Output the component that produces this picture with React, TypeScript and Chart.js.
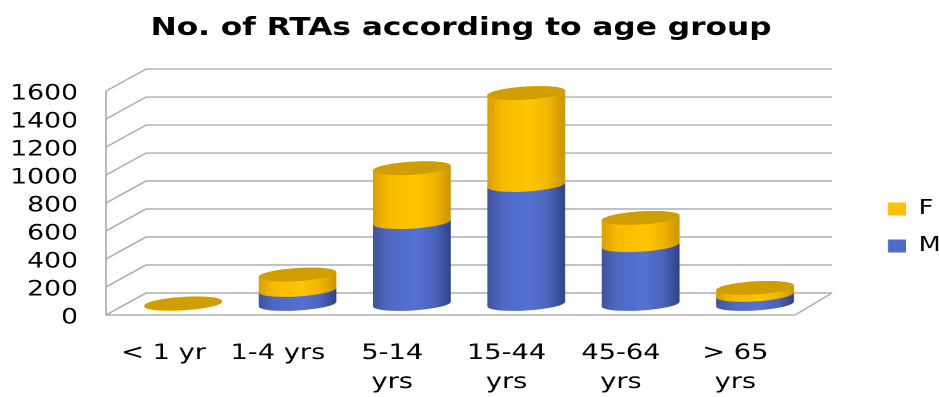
import React, { useEffect, useRef } from "react";
import { Chart, registerables } from "chart.js";

Chart.register(...registerables);

const categories: (string | string[])[] = ["< 1 yr", "1-4 yrs", ["5-14", "yrs"], ["15-44", "yrs"], ["45-64", "yrs"], ["> 65", "yrs"]];
const maleValues = [0, 100, 585, 850, 420, 65];
const femaleValues = [4, 110, 385, 657, 195, 50];
const title = "No. of RTAs according to age group";

const W = 740;
const H = 397;
const S = 939 / W;
const px = (x: number) => x / S;
const DEPTH = 11;
const FONT = '"DejaVu Sans", sans-serif';

const BLUE = ["#3f5499", "#4e69c4", "#5571d3", "#4a63ba", "#2e4284"];
const GOLD = ["#d9a000", "#f7bb00", "#ffc600", "#efb400", "#c99600"];
const STOPS = [0, 0.2, 0.55, 0.8, 1];
const CAP = "#cf9e00";

function cylinder(ctx: CanvasRenderingContext2D, x: number, top: number, bottom: number, r: number, colors: string[]) {
  const ry = 6.5;
  const tilt = -0.08;
  const g = ctx.createLinearGradient(x - r, 0, x + r, 0);
  STOPS.forEach((s, i) => g.addColorStop(s, colors[i]));
  ctx.beginPath();
  ctx.ellipse(x, bottom, r, ry, tilt, 0, Math.PI);
  ctx.ellipse(x, top, r, ry, tilt, Math.PI, 2 * Math.PI);
  ctx.closePath();
  ctx.fillStyle = g;
  ctx.fill();
}

const cylinders = {
  id: "cylinders",
  afterLayout(chart: any) {
    chart.titleBlock.left = 0;
    chart.titleBlock.right = px(461) * 2;
    const lg = chart.legend;
    const dx = px(888) - lg.options.labels.padding - lg.left;
    lg.left += dx;
    lg.right += dx;
    lg.top = 182;
    lg.bottom = 182 + lg.height;
  },
  beforeDatasetsDraw(chart: any) {
    const { ctx, scales } = chart;
    const y = scales.y;
    const frontL = px(106);
    const backL = px(146);
    const backR = px(832);
    const frontR = px(795);
    ctx.save();
    ctx.strokeStyle = "#aeaeae";
    ctx.lineWidth = 1.4;
    y.ticks.forEach((t: any) => {
      const p = y.getPixelForValue(t.value);
      ctx.beginPath();
      ctx.moveTo(frontL, p + DEPTH);
      ctx.lineTo(backL, p - DEPTH);
      ctx.lineTo(backR, p - DEPTH);
      ctx.stroke();
    });
    const p0 = y.getPixelForValue(0);
    const pMax = y.getPixelForValue(y.max);
    ctx.beginPath();
    ctx.moveTo(frontL, pMax + DEPTH);
    ctx.lineTo(frontL, p0 + DEPTH);
    ctx.lineTo(frontR, p0 + DEPTH);
    ctx.lineTo(backR, p0 - DEPTH);
    ctx.stroke();
    ctx.restore();
  },
  beforeDatasetDraw() {
    return false;
  },
  afterDatasetsDraw(chart: any) {
    const { ctx } = chart;
    const male = chart.getDatasetMeta(0).data;
    const female = chart.getDatasetMeta(1).data;
    ctx.save();
    categories.forEach((_, i) => {
      const m = male[i];
      const f = female[i];
      const r = f.width / 2;
      if (Math.abs(m.base - m.y) > 0.5) cylinder(ctx, m.x, m.y, m.base, r, BLUE);
      if (Math.abs(f.base - f.y) > 0.5) cylinder(ctx, f.x, f.y, f.base, r, GOLD);
      ctx.beginPath();
      ctx.ellipse(f.x, f.y, r, 6.5, -0.08, 0, 2 * Math.PI);
      ctx.fillStyle = CAP;
      ctx.fill();
    });
    ctx.restore();
  },
};

export default function App() {
  const ref = useRef<HTMLCanvasElement>(null);
  useEffect(() => {
    const chart = new Chart(ref.current as HTMLCanvasElement, {
      type: "bar",
      data: {
        labels: categories as any,
        datasets: [
          { label: "M", data: maleValues, backgroundColor: "#4f6bc9" },
          { label: "F", data: femaleValues, backgroundColor: "#ffc000" },
        ],
      },
      plugins: [cylinders as any],
      options: {
        responsive: false,
        animation: false,
        devicePixelRatio: 2,
        layout: { padding: { left: 0, right: 31.5, top: 0, bottom: 0 } },
        datasets: { bar: { barThickness: px(78) } },
        plugins: {
          tooltip: { enabled: false },
          title: {
            display: true,
            text: title,
            color: "#000",
            font: { family: FONT, size: 24.6, weight: "bold", lineHeight: 1.2 },
            padding: { top: 14, bottom: 36.5 },
          },
          legend: {
            position: "right",
            align: "start",
            reverse: true,
            labels: {
              color: "#000",
              boxWidth: px(18),
              boxHeight: 13,
              padding: 17,
              font: { family: FONT, size: 20 },
            },
          },
        },
        scales: {
          x: {
            stacked: true,
            grid: { display: false, drawTicks: false },
            border: { display: false },
            afterFit: (s: any) => { s.height = 93; },
            ticks: {
              color: "#000",
              autoSkip: false,
              maxRotation: 0,
              minRotation: 0,
              padding: 35,
              labelOffset: -15.5,
              font: { family: FONT, size: 21.5, lineHeight: 1.35 },
            },
          },
          y: {
            stacked: true,
            min: 0,
            max: 1600,
            grid: { display: false, drawTicks: false },
            border: { display: false },
            afterFit: (s: any) => { s.width = px(126); },
            ticks: {
              color: "#000",
              stepSize: 200,
              autoSkip: false,
              padding: px(48),
              labelOffset: 14,
              font: { family: FONT, size: 21 },
              callback: (v: any) => String(v),
            },
          },
        },
      } as any,
    });
    return () => chart.destroy();
  }, []);
  return (
    <div style={{ position: "absolute", left: 0, top: 0, width: 939, height: H, overflow: "hidden", background: "#fff" }}>
      <div style={{ width: W, height: H, transform: `scaleX(${S})`, transformOrigin: "0 0" }}>
        <canvas ref={ref} width={W} height={H} style={{ display: "block" }} />
      </div>
    </div>
  );
}
